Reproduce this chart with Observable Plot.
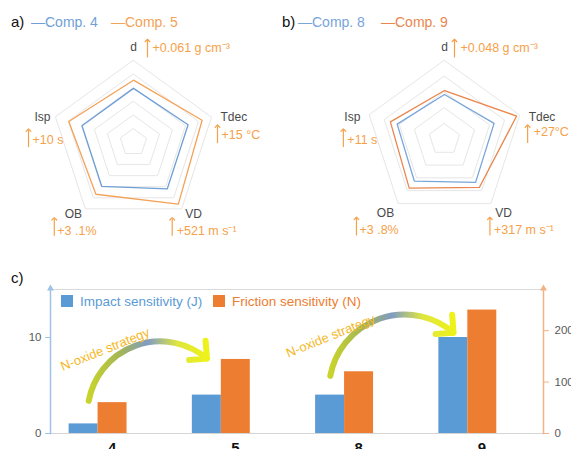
<!DOCTYPE html>
<html><head><meta charset="utf-8">
<script src="https://cdn.jsdelivr.net/npm/d3@7"></script>
<script src="https://cdn.jsdelivr.net/npm/@observablehq/plot@0.6"></script>
<style>
body{margin:0;background:#fff;}
#root{position:relative;width:571px;height:449px;overflow:hidden;font-family:"Liberation Sans",Arial,sans-serif;}
.abs{position:absolute;white-space:nowrap;line-height:1;}
.sq{position:absolute;}
</style></head><body><div id="root"></div>
<script>
// ---------- data ----------
const axes = ["d", "Tdec", "VD", "OB", "Isp"];
const comp4 = [0.66, 0.70, 0.70, 0.66, 0.66];
const comp5 = [0.76, 0.88, 0.93, 0.78, 0.83];
const comp8 = [0.57, 0.66, 0.67, 0.65, 0.63];
const comp9 = [0.62, 0.96, 0.75, 0.76, 0.72];
const gainsA = ["+0.061 g cm\u207B\u00B3", "+15 \u00B0C", "+521 m s\u207B\u00B9", "+3 .1%", "+10 s"];
const gainsB = ["+0.048 g cm\u207B\u00B3", "+27\u00B0C", "+317 m s\u207B\u00B9", "+3 .8%", "+11 s"];
const ringsA = [1/6, 2/6, 3/6, 4/6, 5/6, 1];
const ringsB = [0.2, 0.4, 0.6, 0.8, 1];

const compounds = ["4", "5", "8", "9"];
const impact = [1, 4, 4, 10];        // J
const friction = [60, 144, 120, 240]; // N
const impactTicks = [0, 10];
const frictionTicks = [0, 100, 200];
const oxideArrows = [{x1: 0.31, y1: 3.4, x2: 1.27, y2: 7.8}, {x1: 2.27, y1: 6.0, x2: 3.27, y2: 10.5}];
const oxideLabels = [{x: 0.10, y: 6.5, t: "N-oxide strategy"}, {x: 1.93, y: 7.9, t: "N-oxide strategy"}];

// ---------- style ----------
const FONT = '"Liberation Sans", Arial, sans-serif';
const ANN = "#f6a14a";
const BLUE = "#5b9bd5", ORANGE = "#ed7d31";
const root = document.getElementById("root");
const svgNS = "http://www.w3.org/2000/svg";

function place(node, left, top) {
  const div = document.createElement("div");
  div.style.position = "absolute"; div.style.left = left + "px"; div.style.top = top + "px";
  div.appendChild(node); root.appendChild(div);
}
function label(text, left, top, color, size, weight) {
  const s = document.createElement("div");
  s.className = "abs"; s.textContent = text;
  s.style.left = left + "px"; s.style.top = top + "px"; s.style.color = color;
  s.style.fontSize = size + "px"; if (weight) s.style.fontWeight = weight;
  root.appendChild(s);
}
function square(left, top, w, h, color) {
  const s = document.createElement("div");
  s.className = "sq"; s.style.left = left + "px"; s.style.top = top + "px";
  s.style.width = w + "px"; s.style.height = h + "px"; s.style.background = color;
  root.appendChild(s);
}

function radar({v1, v2, c1, c2, rings, gains, R, cx, cy, width, height, labelOff, annotOff}) {
  const ang = i => i * 2 * Math.PI / axes.length;
  const vx = i => Math.sin(ang(i)), vy = i => Math.cos(ang(i));
  const poly = vals => vals.map((v, i) => ({x: v * vx(i), y: v * vy(i)}));
  const ringPts = rings.flatMap(r => axes.map((a, i) => ({r, x: r * vx(i), y: r * vy(i)})));
  const marks = [
    Plot.line(ringPts, {x: "x", y: "y", z: "r", curve: "linear-closed", stroke: "#e6e6e6", strokeWidth: 1}),
    Plot.line(poly(v1), {x: "x", y: "y", curve: "linear-closed", stroke: c1, strokeWidth: 1.3}),
    Plot.line(poly(v2), {x: "x", y: "y", curve: "linear-closed", stroke: c2, strokeWidth: 1.3})
  ];
  axes.forEach((a, i) => {
    const [ldx, ldy, anchor] = labelOff[i];
    const [adx, ady, tdx, tdy] = annotOff[i];
    marks.push(
      Plot.text([a], {x: () => vx(i), y: () => vy(i), text: d => d, dx: ldx, dy: ldy, textAnchor: anchor, fill: "#4a4a4a", fontSize: 12}),
      Plot.link([gains[i]], {x1: () => vx(i), y1: () => vy(i), x2: () => vx(i), y2: () => vy(i) + 17 / R, dx: adx, dy: ady, stroke: ANN, strokeWidth: 1.2, markerEnd: "arrow"}),
      Plot.text([gains[i]], {x: () => vx(i), y: () => vy(i), text: d => d, dx: tdx, dy: tdy, textAnchor: "start", fill: ANN, fontSize: 12.5})
    );
  });
  return Plot.plot({
    width, height,
    marginLeft: cx - R, marginRight: width - cx - R, marginTop: cy - R, marginBottom: height - cy - R,
    x: {domain: [-1, 1], axis: null}, y: {domain: [-1, 1], axis: null},
    style: {fontFamily: FONT, overflow: "visible", background: "transparent"},
    marks
  });
}

// ---------- panel a ----------
place(radar({
  v1: comp4, v2: comp5, c1: "#6f9fd6", c2: "#f4a258", rings: ringsA, gains: gainsA,
  R: 82, cx: 133, cy: 142, width: 285, height: 250,
  labelOff: [[0, -13, "middle"], [9, 0, "start"], [12, 5, "middle"], [-12, 5, "middle"], [-5, 0, "end"]],
  annotOff: [[14, -3, 19, -13], [6, 26, 10, 18], [-9.5, 27, -5, 22], [-31, 27, -28, 22], [-27, 30, -23, 23]]
}), 0, 0);

// ---------- panel b ----------
place(radar({
  v1: comp8, v2: comp9, c1: "#78a5da", c2: "#e9864e", rings: ringsB, gains: gainsB,
  R: 79, cx: 159, cy: 139, width: 286, height: 250,
  labelOff: [[0, -13, "middle"], [9, 2, "start"], [12.6, 10, "middle"], [-12.6, 10, "middle"], [-9, 2, "end"]],
  annotOff: [[10, -3, 16, -13], [8, 28, 14, 17], [-1, 32, 3, 27], [-41.6, 32, -38.6, 27], [-26, 32, -22, 25]]
}), 285, 0);

// legends a / b
label("a)", 11, 14, "#111", 15);
label("\u2014Comp. 4", 31, 15, "#6f9fd6", 14);
label("\u2014Comp. 5", 111, 15, "#f4a258", 14);
label("b)", 282, 14, "#111", 15);
label("\u2014Comp. 8", 298, 15, "#78a5da", 14);
label("\u2014Comp. 9", 381, 15, "#e9864e", 14);

// ---------- panel c ----------
const fScale = 15 / 280;
const bars = compounds.map((c, i) => ({c, i, impact: impact[i], friction: friction[i]}));
function gradientDefs() {
  const defs = document.createElementNS(svgNS, "defs");
  const g = document.createElementNS(svgNS, "linearGradient");
  g.setAttribute("id", "ngrad");
  g.setAttribute("x1", "0"); g.setAttribute("y1", "0"); g.setAttribute("x2", "1"); g.setAttribute("y2", "0");
  [[0, "#c8d42a"], [0.28, "#a2b45a"], [0.5, "#7f9cc4"], [0.75, "#dfe63e"], [1, "#eef21a"]].forEach(([o, c]) => {
    const s = document.createElementNS(svgNS, "stop");
    s.setAttribute("offset", o); s.setAttribute("stop-color", c); g.appendChild(s);
  });
  defs.appendChild(g);
  return defs;
}
const barPlot = Plot.plot({
  width: 571, height: 189, marginLeft: 50, marginRight: 28, marginTop: 29, marginBottom: 16,
  x: {domain: [0, 4], axis: null}, y: {domain: [0, 15], axis: null},
  style: {fontFamily: FONT, overflow: "visible", background: "transparent"},
  marks: [
    gradientDefs,
    Plot.frame({anchor: "top", stroke: "#dadada"}),
    Plot.ruleY([0], {stroke: "#d4d4d4"}),
    Plot.rectY(bars, {x1: d => d.i + 0.151, x2: d => d.i + 0.386, y1: 0, y2: "impact", fill: BLUE}),
    Plot.rectY(bars, {x1: d => d.i + 0.386, x2: d => d.i + 0.621, y1: 0, y2: d => d.friction * fScale, fill: ORANGE}),
    Plot.frame({anchor: "left", stroke: "#9dc3e6", strokeWidth: 1.5}),
    Plot.frame({anchor: "right", stroke: "#f4b183", strokeWidth: 1.5}),
    Plot.dot([0], {frameAnchor: "top-left", symbol: "triangle", r: 2.6, fill: "#9dc3e6", dy: -1}),
    Plot.dot([0], {frameAnchor: "top-right", symbol: "triangle", r: 2.6, fill: "#f4b183", dy: -1}),
    Plot.axisY(impactTicks, {anchor: "left", tickSize: 5, stroke: "#9dc3e6", fill: "#595959", fontSize: 11.5, tickPadding: 4}),
    Plot.axisY(frictionTicks.map(v => v * fScale), {anchor: "right", tickSize: 5, tickFormat: v => Math.round(v / fScale), stroke: "#f4b183", fill: "#595959", fontSize: 11.5, tickPadding: 6}),
    Plot.axisX([0.5, 1.5, 2.5, 3.5], {tickSize: 0, tickPadding: 9, tickFormat: d => compounds[Math.floor(d)], fontSize: 15, fontWeight: "bold", fill: "#111"}),
    Plot.arrow(oxideArrows, {x1: "x1", y1: "y1", x2: "x2", y2: "y2", bend: 60, stroke: "url(#ngrad)", strokeWidth: 6, headLength: 4.5, headAngle: 90}),
    Plot.text(oxideLabels, {x: "x", y: "y", text: "t", rotate: -22, textAnchor: "start", lineAnchor: "bottom", fill: "#f5b71f", fontSize: 13})
  ]
});
place(barPlot, 0, 260);
label("c)", 11, 270, "#111", 15);
square(61, 295, 12, 12, BLUE);
label("Impact sensitivity (J)", 80, 294.5, BLUE, 13.5);
square(213, 295, 12, 12, ORANGE);
label("Friction sensitivity (N)", 232, 294.5, ORANGE, 13.5);
</script></body></html>
